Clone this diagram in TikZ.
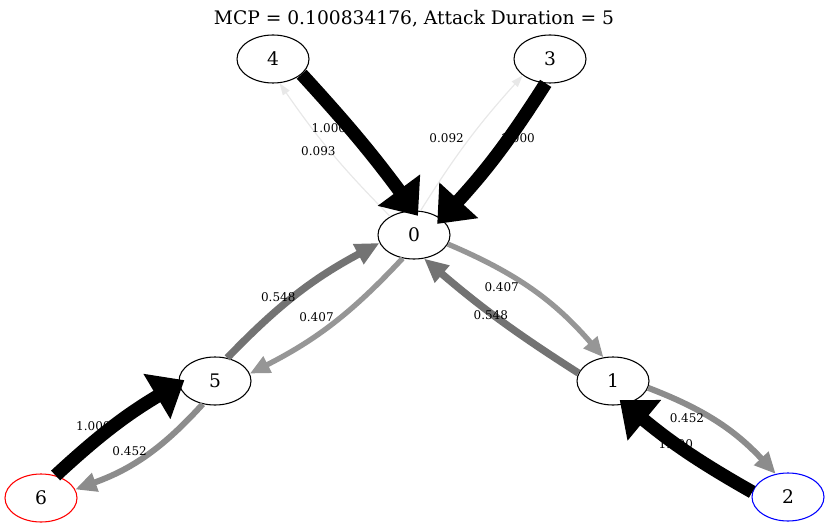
\documentclass[tikz,border=0pt]{standalone}
\usepackage{fontspec}
\setmainfont{DejaVu Serif}
\usetikzlibrary{arrows.meta, shapes.geometric}

\begin{document}
\begin{tikzpicture}[
    x=0.75pt, y=-0.75pt,
    % Graph states
    state/.style={
        draw, ellipse, line width=0.8pt,
        minimum width=54pt, minimum height=36pt, inner sep=0pt,
        font=\fontsize{14}{16}\selectfont
    },
    weight/.style={
        font=\fontsize{9}{10}\selectfont,
        text=black, inner sep=0pt
    },
    % Edge looks by probability
    p1000/.style={-{Triangle[length=24pt,width=38pt]}, line width=10pt, black, shorten >=-5pt},
    p548/.style={-{Triangle[length=18pt,width=16pt]}, line width=5.5pt, black!55},
    p452/.style={-{Triangle[length=16pt,width=14pt]}, line width=4.5pt, black!45},
    p407/.style={-{Triangle[length=15pt,width=13pt]}, line width=4pt, black!41},
    p093/.style={-{Triangle[length=9pt,width=6pt]}, line width=0.9pt, black!9}
]
    \useasboundingbox (0,0) rectangle (829,528);

    % Title
    \node[font=\fontsize{14}{16}\selectfont] (title) at (414,19) {MCP = 0.100834176, Attack Duration = 5};

    % States
    \node[state] (n0) at (414,235) {0};
    \node[state] (n1) at (613,381) {1};
    \node[state, draw=blue] (n2) at (788,497) {2};
    \node[state] (n3) at (550,59) {3};
    \node[state] (n4) at (273,59) {4};
    \node[state] (n5) at (215,381) {5};
    \node[state, draw=red] (n6) at (41,498) {6};

    % Transitions (label shifts in pixels)
    \draw[p093] (n0.142) to[bend left=5] node[weight, pos=0.56, shift={(-7,5.5)}] {0.093} (n4.-75);
    \draw[p093] (n0.75) to[bend left=5] node[weight, pos=0.43, shift={(-15,-11)}] {0.092} (n3.211);
    \draw[p407] (n0.-15) to[bend left=13] node[weight, pos=0.35, shift={(-9,12)}] {0.407} (n1.112);
    \draw[p407] (n0.244) to[bend left=10] node[weight, pos=0.55, shift={(-8.5,-11.5)}] {0.407} (n5.12);
    \draw[p548] (n1.167) to[bend left=4] node[weight, pos=0.55, shift={(-1,1.5)}] {0.548} (n0.-67);
    \draw[p452] (n1.-11) to[bend left=13] node[weight, pos=0.31, shift={(-7,10)}] {0.452} (n2.118);
    \draw[p548] (n5.62) to[bend left=9] node[weight, pos=0.40, shift={(-6,-7.5)}] {0.548} (n0.193);
    \draw[p452] (n5.242) to[bend left=14] node[weight, pos=0.57, shift={(-7,-10.5)}] {0.452} (n6.14);

    % Sure transitions, drawn over their own labels
    \draw[p1000] (n4.-28) to[bend left=3] node[weight, behind path, pos=0.32, shift={(-12,10)}] {1.000} (n0.90);
    \draw[p1000] (n3.260) to[bend left=5] node[weight, behind path, pos=0.34, shift={(5.5,4.5)}] {1.000} (n0.30);
    \draw[p1000] (n2.172) to[bend left=5] node[weight, behind path, pos=0.59] {1.000} (n1.-63);
    \draw[p1000] (n6.57) to[bend left=6] node[weight, behind path, pos=0.38, shift={(-7.5,-10)}] {1.000} (n5.184);
\end{tikzpicture}
\end{document}
